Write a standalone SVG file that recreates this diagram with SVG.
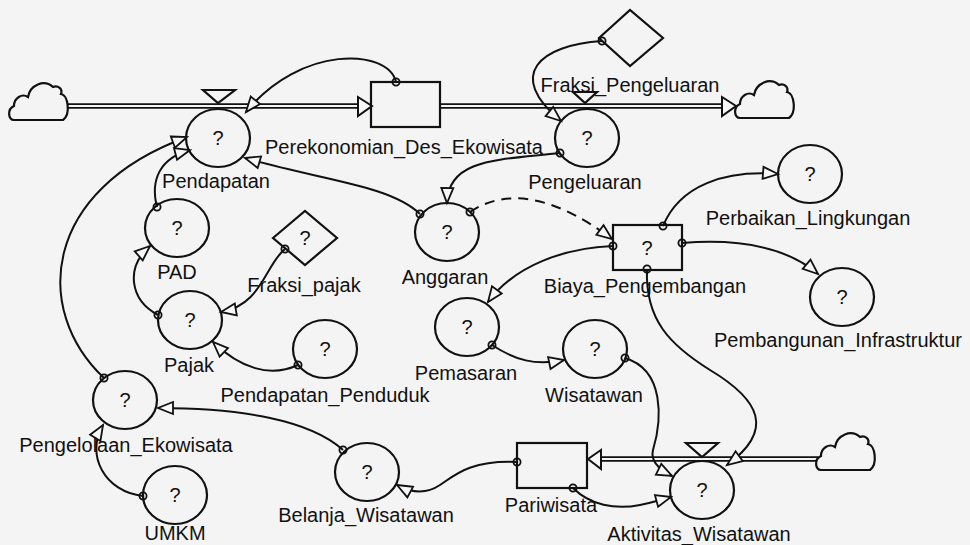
<svg xmlns="http://www.w3.org/2000/svg" width="970" height="545" viewBox="0 0 970 545">
<defs>
<style>
.lbl{font-family:"Liberation Sans",Arial,sans-serif;font-size:20px;fill:#111;text-anchor:middle}
.q{font-family:"Liberation Sans",Arial,sans-serif;font-size:20px;fill:#111;text-anchor:middle}
.shape{fill:none;stroke:#111;stroke-width:2.2}
.link{fill:none;stroke:#111;stroke-width:2;marker-start:url(#dot);marker-end:url(#ah)}
.dash{stroke-dasharray:10 7}
.pipeo{stroke:#111;stroke-width:5.5;fill:none}
.pipei{stroke:#f4f4f4;stroke-width:1.8;fill:none}
.hollow{fill:#f8f8f8;stroke:#111;stroke-width:2}
.cl{fill:#f4f4f4;stroke:#111;stroke-width:2.2}
</style>
<marker id="ah" markerWidth="18" markerHeight="14" refX="15" refY="7" orient="auto" markerUnits="userSpaceOnUse" overflow="visible"><path d="M0,1 L15,7 L0,13 Z" fill="#f8f8f8" stroke="#111" stroke-width="1.8"/></marker>
<marker id="dot" markerWidth="10" markerHeight="10" refX="5" refY="5" markerUnits="userSpaceOnUse" overflow="visible"><circle cx="5" cy="5" r="3.6" fill="none" stroke="#111" stroke-width="1.8"/></marker>
<path id="cloud" d="M6,38 C0,38 -1,27 6,24 C6,16 14,11 20,15 C22,3 36,-3 45,5 C50,3 55,7 53,12 C60,13 63,32 55,38 Z"/>
</defs>
<rect width="970" height="545" fill="#f4f4f4"/>

<g id="pipes">
  <line class="pipeo" x1="62" y1="106" x2="360" y2="106"/>
  <line class="pipei" x1="60" y1="106" x2="360" y2="106"/>
  <polygon class="hollow" points="358,97 372,106 358,116"/>
  <line class="pipeo" x1="440" y1="106" x2="724" y2="106"/>
  <line class="pipei" x1="440" y1="106" x2="724" y2="106"/>
  <polygon class="hollow" points="722,97 736,106 722,116"/>
  <line class="pipeo" x1="600" y1="459" x2="818" y2="459"/>
  <line class="pipei" x1="600" y1="459" x2="820" y2="459"/>
  <polygon class="hollow" points="601,450 588,459 601,469"/>
</g>

<g id="clouds">
  <use href="#cloud" class="cl" transform="translate(8,82)"/>
  <use href="#cloud" class="cl" transform="translate(734,80)"/>
  <use href="#cloud" class="cl" transform="translate(815,432)"/>
</g>

<g id="connectors">
  <path class="link" d="M396,82 C388,48 300,45 246,112"/>
  <path class="link" d="M602,41 C540,45 505,75 561,121"/>
  <path class="link" d="M560,153 C500,160 448,158 447,203"/>
  <path class="link" d="M420,214 C390,185 320,180 245,158"/>
  <path class="link dash" d="M470,212 C510,185 560,200 612,239"/>
  <path class="link" d="M613,246 C565,248 515,265 488,302"/>
  <path class="link" d="M663,226 C680,185 725,170 778,174"/>
  <path class="link" d="M682,243 C745,238 790,250 818,274"/>
  <path class="link" d="M647,269 C645,320 670,345 710,370 C760,400 775,430 727,465"/>
  <path class="link" d="M625,358 C665,370 662,420 653,450 C650,462 660,470 672,476"/>
  <path class="link" d="M492,345 C515,360 535,366 564,360"/>
  <path class="link" d="M517,462 C470,460 455,475 440,485 C425,495 410,492 397,485"/>
  <path class="link" d="M573,488 C590,505 615,510 640,505 C650,503 660,500 671,497"/>
  <path class="link" d="M343,450 C310,420 240,408 158,408"/>
  <path class="link" d="M143,496 C105,492 85,455 103,425"/>
  <path class="link" d="M158,315 C130,300 125,268 150,246"/>
  <path class="link" d="M157,207 C150,180 160,158 190,150"/>
  <path class="link" d="M285,249 C265,265 262,305 221,312"/>
  <path class="link" d="M298,365 C270,378 240,368 213,342"/>
  <path class="link" d="M104,378 C32,310 42,190 187,137"/>
</g>

<g id="Pendapatan">
  <ellipse class="shape" cx="218" cy="138" rx="32" ry="29"/>
  <polygon class="shape" points="203,90 235,90 218,103"/>
  <text class="q" x="218" y="145">?</text>
  <text class="lbl" x="216" y="188">Pendapatan</text>
</g>
<g id="Perekonomian_Des_Ekowisata">
  <rect class="shape" x="371" y="82" width="69" height="45"/>
  <text class="lbl" x="404" y="154">Perekonomian_Des_Ekowisata</text>
</g>
<g id="Pengeluaran">
  <ellipse class="shape" cx="587" cy="138" rx="32" ry="29"/>
  <polygon class="shape" points="573,92 597,92 585,103"/>
  <text class="q" x="587" y="145">?</text>
  <text class="lbl" x="585" y="189">Pengeluaran</text>
</g>
<g id="Fraksi_Pengeluaran">
  <polygon class="shape" points="599,38 630,10 663,38 630,66"/>
  <text class="lbl" x="630" y="92">Fraksi_Pengeluaran</text>
</g>
<g id="PAD">
  <ellipse class="shape" cx="177" cy="228" rx="32" ry="29"/>
  <text class="q" x="177" y="235">?</text>
  <text class="lbl" x="177" y="279">PAD</text>
</g>
<g id="Fraksi_pajak">
  <polygon class="shape" points="273,238 305,211 337,238 305,265"/>
  <text class="q" x="305" y="245">?</text>
  <text class="lbl" x="304" y="292">Fraksi_pajak</text>
</g>
<g id="Pajak">
  <ellipse class="shape" cx="190" cy="320" rx="32" ry="29"/>
  <text class="q" x="190" y="327">?</text>
  <text class="lbl" x="189" y="372">Pajak</text>
</g>
<g id="Pendapatan_Penduduk">
  <ellipse class="shape" cx="325" cy="349" rx="32" ry="29"/>
  <text class="q" x="325" y="356">?</text>
  <text class="lbl" x="325" y="402">Pendapatan_Penduduk</text>
</g>
<g id="Anggaran">
  <ellipse class="shape" cx="447" cy="232" rx="32" ry="29"/>
  <text class="q" x="447" y="239">?</text>
  <text class="lbl" x="445" y="284">Anggaran</text>
</g>
<g id="Biaya_Pengembangan">
  <rect class="shape" x="613" y="225" width="69" height="45"/>
  <text class="q" x="647" y="255">?</text>
  <text class="lbl" x="645" y="293">Biaya_Pengembangan</text>
</g>
<g id="Perbaikan_Lingkungan">
  <ellipse class="shape" cx="810" cy="174" rx="32" ry="29"/>
  <text class="q" x="810" y="181">?</text>
  <text class="lbl" x="808" y="225">Perbaikan_Lingkungan</text>
</g>
<g id="Pembangunan_Infrastruktur">
  <ellipse class="shape" cx="842" cy="297" rx="32" ry="29"/>
  <text class="q" x="842" y="304">?</text>
  <text class="lbl" x="838" y="347">Pembangunan_Infrastruktur</text>
</g>
<g id="Pemasaran">
  <ellipse class="shape" cx="467" cy="327" rx="32" ry="29"/>
  <text class="q" x="467" y="334">?</text>
  <text class="lbl" x="466" y="380">Pemasaran</text>
</g>
<g id="Wisatawan">
  <ellipse class="shape" cx="595" cy="349" rx="32" ry="29"/>
  <text class="q" x="595" y="356">?</text>
  <text class="lbl" x="594" y="402">Wisatawan</text>
</g>
<g id="Pengelolaan_Ekowisata">
  <ellipse class="shape" cx="125" cy="400" rx="32" ry="29"/>
  <text class="q" x="125" y="407">?</text>
  <text class="lbl" x="126" y="452">Pengelolaan_Ekowisata</text>
</g>
<g id="UMKM">
  <ellipse class="shape" cx="175" cy="495" rx="32" ry="29"/>
  <text class="q" x="175" y="502">?</text>
  <text class="lbl" x="175" y="540">UMKM</text>
</g>
<g id="Belanja_Wisatawan">
  <ellipse class="shape" cx="367" cy="472" rx="32" ry="29"/>
  <text class="q" x="367" y="479">?</text>
  <text class="lbl" x="366" y="522">Belanja_Wisatawan</text>
</g>
<g id="Pariwisata">
  <rect class="shape" x="517" y="443" width="70" height="45"/>
  <text class="lbl" x="551" y="512">Pariwisata</text>
</g>
<g id="Aktivitas_Wisatawan">
  <ellipse class="shape" cx="702" cy="490" rx="32" ry="29"/>
  <polygon class="shape" points="686,443 718,443 702,457"/>
  <text class="q" x="702" y="497">?</text>
  <text class="lbl" x="699" y="541">Aktivitas_Wisatawan</text>
</g>
</svg>
